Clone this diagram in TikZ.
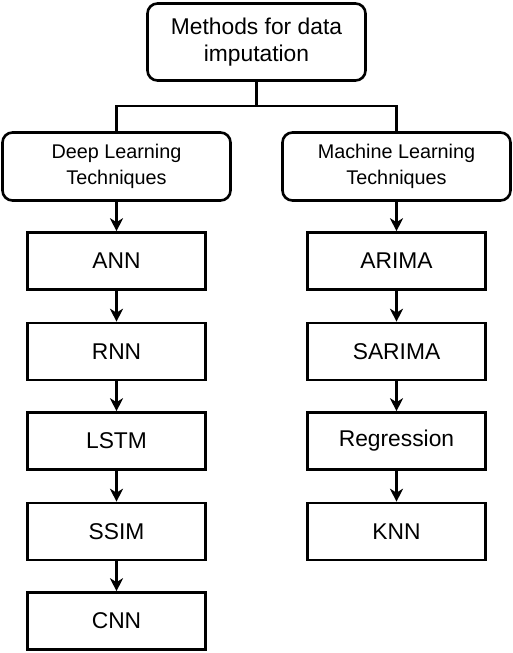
\documentclass[tikz,border=0pt]{standalone}
\usepackage{fontspec}
\setmainfont{Liberation Sans}
\usetikzlibrary{arrows.meta}
\begin{document}
\begin{tikzpicture}[x=1pt,y=1pt,
  lw/.style={line width=2.6pt},
  rbox/.style={lw,draw,rounded corners=10pt,align=center,inner sep=0pt},
  topbox/.style={rbox,minimum width=218pt,minimum height=77pt,font=\fontsize{22.8}{27}\selectfont},
  grpbox/.style={rbox,minimum width=228pt,minimum height=68pt,font=\fontsize{19.8}{26.5}\selectfont},
  itembox/.style={lw,draw,minimum width=178pt,minimum height=57pt,inner sep=0pt,font=\fontsize{22.8}{27}\selectfont},
  conn/.style={lw},
  arr/.style={lw,-{Stealth[length=13pt,width=13pt,inset=4pt]}}
]
\useasboundingbox (0,0) rectangle (513,-653);
\node[topbox] (top) at (256.5,-42) {Methods for data\\imputation};
\node[grpbox] (dl) at (116.5,-166.5) {Deep Learning\\Techniques};
\node[grpbox] (ml) at (396.5,-166.5) {Machine Learning\\Techniques};
\node[itembox] (ann) at (116.5,-261) {ANN};
\node[itembox] (rnn) at (116.5,-351.5) {RNN};
\node[itembox] (lstm) at (116.5,-441) {LSTM};
\node[itembox] (ssim) at (116.5,-531.5) {SSIM};
\node[itembox] (cnn) at (116.5,-621) {CNN};
\node[itembox] (arima) at (396.5,-261) {ARIMA};
\node[itembox] (sarima) at (396.5,-351.5) {SARIMA};
\node[itembox] (reg) at (396.5,-441) {Regression};
\node[itembox] (knn) at (396.5,-531.5) {KNN};
\coordinate (j) at (256.5,-106);
\draw[conn] (top.south) -- (j) -| (dl.north);
\draw[conn] (j) -| (ml.north);
\draw[arr] (dl) -- (ann);
\draw[arr] (ann) -- (rnn);
\draw[arr] (rnn) -- (lstm);
\draw[arr] (lstm) -- (ssim);
\draw[arr] (ssim) -- (cnn);
\draw[arr] (ml) -- (arima);
\draw[arr] (arima) -- (sarima);
\draw[arr] (sarima) -- (reg);
\draw[arr] (reg) -- (knn);
\end{tikzpicture}
\end{document}
